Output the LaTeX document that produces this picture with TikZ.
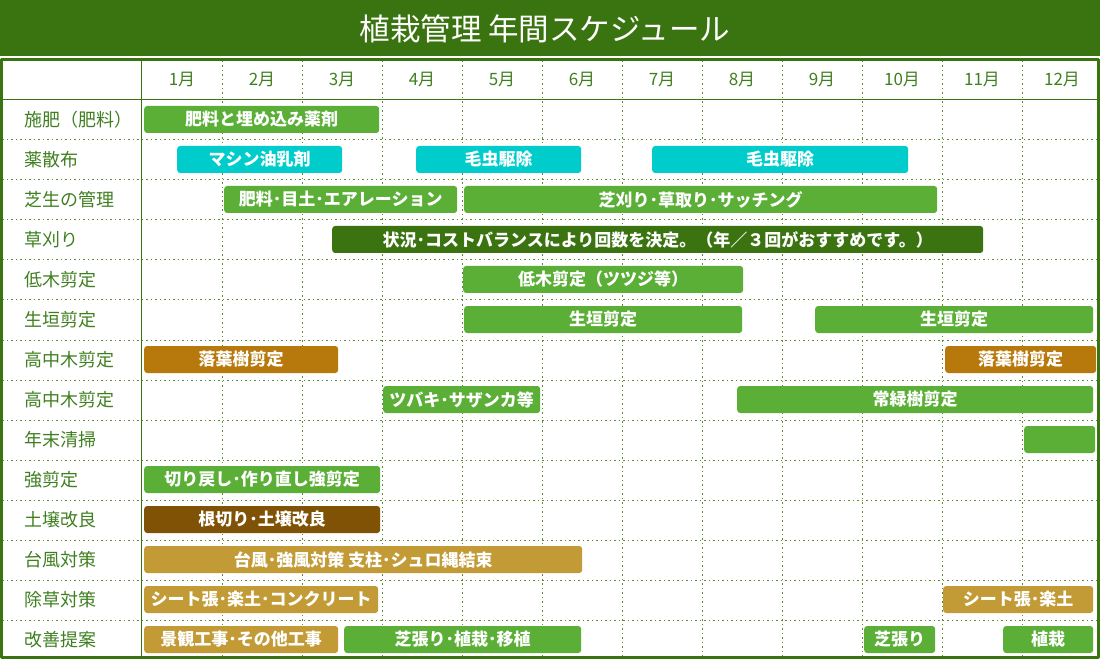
\documentclass[tikz,border=0pt]{standalone}
\usepackage{fontspec}
\newfontfamily\jp{Noto Sans CJK JP}
\definecolor{titlegreen}{HTML}{3A7410}
\definecolor{labelgreen}{HTML}{3F7F1F}
\definecolor{dotgreen}{HTML}{5E8A36}
\definecolor{bargreen}{HTML}{5BAF37}
\definecolor{barcyan}{HTML}{00CCCC}
\definecolor{bardark}{HTML}{3A730F}
\definecolor{barbrown}{HTML}{B8790C}
\definecolor{barsoil}{HTML}{7F5205}
\definecolor{bargold}{HTML}{C29B36}
\tikzset{
	bar/.style={rounded corners=3pt, text=white, inner sep=0pt, minimum height=27pt, anchor=west, font=\jp\bfseries\fontsize{17}{17}\selectfont},
	gbar/.style={bar, fill=bargreen},
	cbar/.style={bar, fill=barcyan},
	dgbar/.style={bar, fill=bardark},
	bbar/.style={bar, fill=barbrown},
	sbar/.style={bar, fill=barsoil},
	ybar/.style={bar, fill=bargold},
	monthlab/.style={text=labelgreen, font=\jp\fontsize{17}{17}\selectfont},
	rowlab/.style={text=labelgreen, anchor=west, inner sep=0pt, font=\jp\fontsize{18}{18}\selectfont},
	grid dots/.style={dotgreen, line width=1pt, dash pattern=on 1.5pt off 3pt}
}
\begin{document}
\begin{tikzpicture}[x=1pt,y=-1pt, line join=round]
	\useasboundingbox (0,0) rectangle (1100,660);
	%title
	\fill[titlegreen] (0,0) rectangle (1100,56.5);
	\node[text=white, font=\jp\fontsize{30.5}{30.5}\selectfont] (title) at (545,29) {植栽管理 年間スケジュール};
	%grid
	\foreach \k in {0,...,10}
		\draw[grid dots] (222+80*\k,61) -- (222+80*\k,656);
	\foreach \j in {1,...,13}
		\draw[grid dots] (2,100+40*\j) -- (1097,100+40*\j);
	\draw[titlegreen, line width=1.5pt] (0,99.5) -- (1098,99.5);
	\draw[titlegreen, line width=1.5pt] (141.5,60) -- (141.5,657);
	\draw[titlegreen, line width=3pt] (1.5,59.5) rectangle (1098.5,657.5);
	%months
	\foreach \m in {1,...,12}
		\node[monthlab] (m\m) at (182+80*\m-80,80) {\m 月};
	%row labels
	\foreach \lab [count=\i] in {施肥（肥料）,薬散布,芝生の管理,草刈り,低木剪定,生垣剪定,高中木剪定,高中木剪定,年末清掃,強剪定,土壌改良,台風対策,除草対策,改善提案}
		\node[rowlab] (r\i) at (24,80+40*\i) {\lab};
	%bars
	\node[gbar, minimum width=235pt] (hiryo) at (144,119.5) {肥料と埋め込み薬剤};
	\node[cbar, minimum width=165pt] (machine) at (177,159.5) {マシン油乳剤};
	\node[cbar, minimum width=165pt] (kemushiA) at (416,159.5) {毛虫駆除};
	\node[cbar, minimum width=256pt] (kemushiB) at (652,159.5) {毛虫駆除};
	\node[gbar, minimum width=233pt] (meddo) at (224,199.5) {肥料･目土･エアレーション};
	\node[gbar, minimum width=473pt] (shibakari) at (464,199.5) {芝刈り･草取り･サッチング};
	\node[dgbar, minimum width=651pt] (kusakari) at (332,239.5) {状況･コストバランスにより回数を決定。（年／３回がおすすめです。）};
	\node[gbar, minimum width=280pt] (teiboku) at (463,279.5) {低木剪定（ツツジ等）};
	\node[gbar, minimum width=278pt] (ikegakiA) at (464,319.5) {生垣剪定};
	\node[gbar, minimum width=278pt] (ikegakiB) at (815,319.5) {生垣剪定};
	\node[bbar, minimum width=194pt] (rakuyoA) at (144,359.5) {落葉樹剪定};
	\node[bbar, minimum width=151pt] (rakuyoB) at (945,359.5) {落葉樹剪定};
	\node[gbar, minimum width=157pt] (tsubaki) at (383,399.5) {ツバキ･サザンカ等};
	\node[gbar, minimum width=356pt] (joryoku) at (737,399.5) {常緑樹剪定};
	\node[gbar, minimum width=71pt] (nenmatsu) at (1024,439.5) {};
	\node[gbar, minimum width=236pt] (kyosentei) at (144,479.5) {切り戻し･作り直し強剪定};
	\node[sbar, minimum width=236pt] (dojo) at (144,519.5) {根切り･土壌改良};
	\node[ybar, minimum width=438pt] (taifu) at (144,559.5) {台風･強風対策 支柱･シュロ縄結束};
	\node[ybar, minimum width=234pt] (sheetA) at (144,599.5) {シート張･楽土･コンクリート};
	\node[ybar, minimum width=150pt] (sheetB) at (943,599.5) {シート張･楽土};
	\node[ybar, minimum width=194pt] (keikan) at (144,639.5) {景観工事･その他工事};
	\node[gbar, minimum width=237pt] (shokusai) at (344,639.5) {芝張り･植栽･移植};
	\node[gbar, minimum width=71pt] (shibahari) at (864,639.5) {芝張り};
	\node[gbar, minimum width=90pt] (ueki) at (1003,639.5) {植栽};
\end{tikzpicture}
\end{document}
